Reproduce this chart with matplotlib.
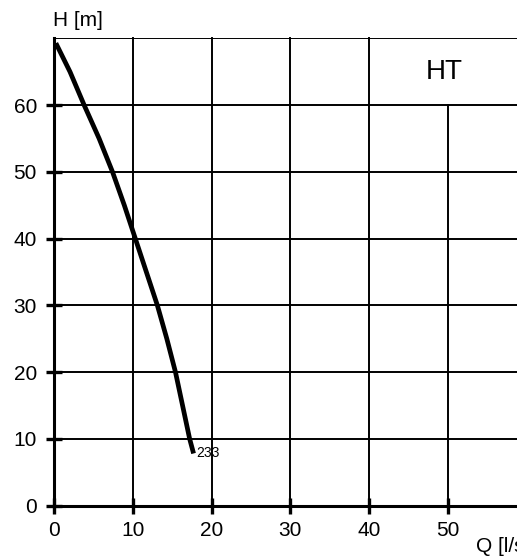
import matplotlib.pyplot as plt

plt.rcParams['font.family'] = ['Liberation Sans', 'DejaVu Sans']

# Pump curve HT, impeller 233: flow Q [l/s] vs head H [m]
q_flow = [0.2, 2.0, 3.8, 5.7, 7.4, 8.9, 10.3, 11.7, 13.1, 14.3, 15.4, 16.3, 17.2, 17.7]
h_head = [69.3, 65, 60, 55, 50, 45, 40, 35, 30, 25, 20, 15, 10, 7.8]
curve_label = "233"
model_name = "HT"

x_ticks = [0, 10, 20, 30, 40, 50]
y_ticks = [0, 10, 20, 30, 40, 50, 60]

fig = plt.figure(figsize=(5.17, 5.6), dpi=100)
ax = fig.add_axes([0.105, 0.0973, 0.895, 0.834])
ax.set_xlim(0, 58.8)
ax.set_ylim(0, 70)

# grid: vertical lines right of 40 stop below the title cell
for x in x_ticks[1:]:
    top = 60 if x > 40 else 70
    ax.plot([x, x], [0, top], color='black', lw=1.4, zorder=1, clip_on=False)
for y in y_ticks[1:] + [70]:
    ax.axhline(y, color='black', lw=1.4, zorder=1)

for side in ['top', 'right']:
    ax.spines[side].set_visible(False)
for side in ['left', 'bottom']:
    ax.spines[side].set_linewidth(2.2)

ax.set_xticks(x_ticks)
ax.set_yticks(y_ticks)
ax.tick_params(axis='both', direction='inout', length=11, width=2.4,
               labelsize=15)
ax.tick_params(axis='y', pad=7)
ax.tick_params(axis='x', pad=6)

ax.plot(q_flow, h_head, color='black', lw=3.4, solid_capstyle='butt', zorder=3)
ax.text(q_flow[-1] + 0.3, h_head[-1], curve_label, fontsize=10,
        ha='left', va='center')

ax.text(49.6, 65, model_name, fontsize=20, ha='center', va='center')

fig.text(53 / 517, 1 - 21 / 560, "H [m]", fontsize=15, ha='left', va='center')
fig.text(476 / 517, 1 - 547 / 560, "Q [l/s]", fontsize=15, ha='left', va='center')

fig.savefig('out.png', dpi=100)
